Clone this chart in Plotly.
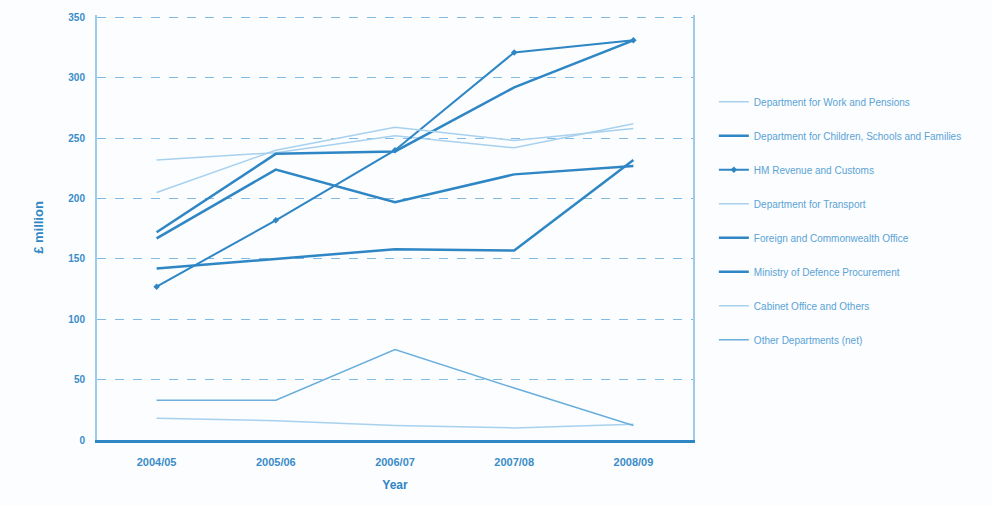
import plotly.graph_objects as go

years = ["2004/05", "2005/06", "2006/07", "2007/08", "2008/09"]

names = [
    "Department for Work and Pensions",
    "Department for Children, Schools and Families",
    "HM Revenue and Customs",
    "Department for Transport",
    "Foreign and Commonwealth Office",
    "Ministry of Defence Procurement",
    "Cabinet Office and Others",
    "Other Departments (net)",
]

s_faint_top = [232, 238, 252, 242, 262]
s_dark_a = [172, 237, 239, 292, 331]
s_diamond = [127, 182, 240, 321, 331]
s_faint_b = [205, 240, 259, 248, 258]
s_dark_b = [142, 150, 158, 157, 232]
s_dark_c = [167, 224, 197, 220, 227]
s_low_a = [18, 16, 12, 10, 13]
s_low_b = [33, 33, 75, 43, 12]

series = [s_faint_top, s_dark_a, s_diamond, s_faint_b, s_dark_b, s_dark_c, s_low_a, s_low_b]

dark = "#2f86c4"
light = "#a8d1ee"
mid = "#6aaedc"
styles = [
    dict(color=light, width=1.5),
    dict(color=dark, width=2.5),
    dict(color=dark, width=2),
    dict(color=light, width=1.5),
    dict(color=dark, width=2.5),
    dict(color=dark, width=2.5),
    dict(color=light, width=1.5),
    dict(color=mid, width=1.5),
]
markers = [None, None, dict(symbol="diamond", size=5, color=dark), None, None, None, None, None]

fig = go.Figure()
for i, (n, s) in enumerate(zip(names, series)):
    fig.add_trace(go.Scatter(
        x=years, y=s, name=n,
        mode="lines+markers" if markers[i] else "lines",
        line=styles[i],
        marker=markers[i] if markers[i] else None,
        legendgroup=f"g{i}",
    ))

fig.update_layout(
    width=992, height=506,
    margin=dict(l=97, r=299, t=15, b=66),
    paper_bgcolor="#fbfdff",
    plot_bgcolor="#fbfdff",
    font=dict(family="Liberation Sans, Arial, sans-serif", size=10, color="#3d8fca"),
    showlegend=True,
    legend=dict(
        x=1.035, y=0.83, xanchor="left", yanchor="top",
        tracegroupgap=15,
        font=dict(size=10, color="#5aa3d6"),
        bgcolor="rgba(0,0,0,0)",
    ),
    xaxis=dict(
        title=dict(text="<b>Year</b>", font=dict(size=12, color="#2f86c4"), standoff=14),
        type="category",
        range=[-0.5, 4.5],
        showgrid=False,
        showline=True, linecolor="#2f86c4", linewidth=3,
        ticks="", ticklabelstandoff=10,
        tickfont=dict(size=11, color="#3a8cc8", weight="bold"),
    ),
    yaxis=dict(
        title=dict(text="<b>£ million</b>", font=dict(size=13, color="#2f86c4"), standoff=22),
        range=[0, 352],
        dtick=50,
        showgrid=True, gridcolor="#7fbbe4", griddash="dash", gridwidth=1.2,
        showline=True, linecolor="#9ccbec", linewidth=2, mirror=True,
        zeroline=False,
        ticks="", ticklabelstandoff=8,
        tickfont=dict(size=10, color="#3a8cc8", weight="bold"),
    ),
)

fig.write_html("out.html")
